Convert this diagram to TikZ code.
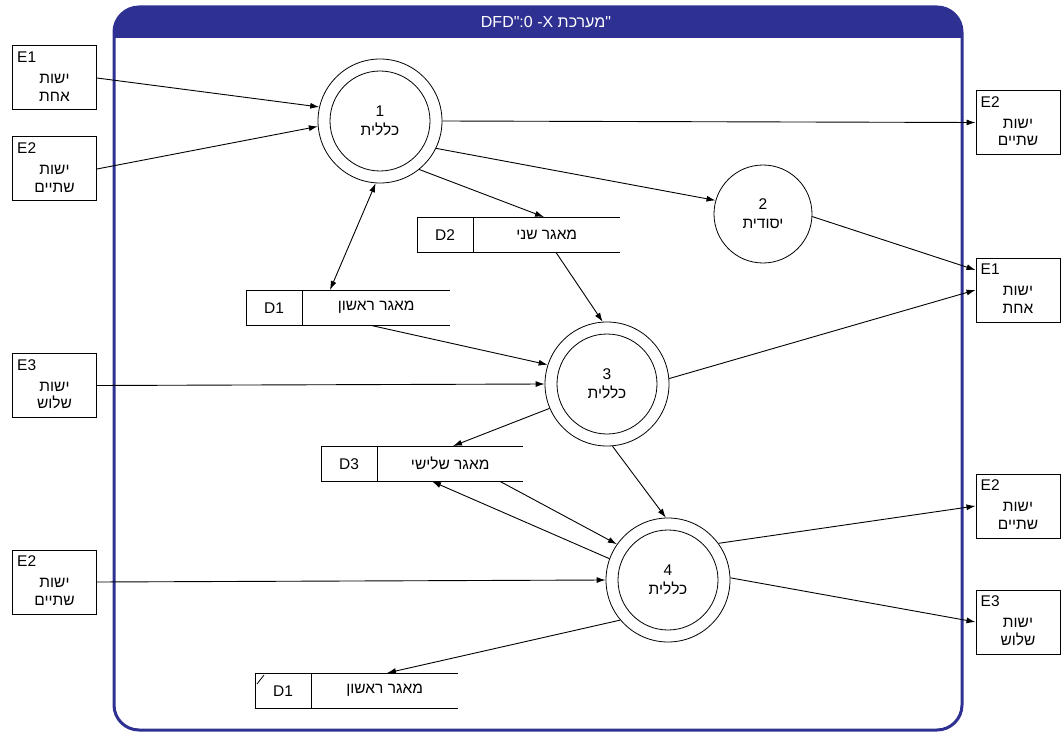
\documentclass[tikz,border=0pt]{standalone}
\usepackage{fontspec}
\setmainfont{Liberation Sans}
\newfontfamily\hebfont[Script=Hebrew]{Liberation Sans}
\TeXXeTstate=1
\usetikzlibrary{arrows.meta,calc}
\definecolor{framecol}{RGB}{46,49,146}
\newcommand\he[1]{{\hebfont\beginR #1\endR}}
% external entity: name, x, y, id, two text lines
\newcommand\entity[6]{%
  \node[entity] (#1) at (#2,#3) {};
  \node[anchor=north west, inner sep=0pt] at ([xshift=5pt,yshift=-6pt]#1.north west) {#4};
  \node[align=center, inner sep=0pt] at ([yshift=-10pt]#1.center) {\he{#5}\\\he{#6}};
}
% data store: name, left, top, width, id, label
\newcommand\datastore[6]{%
  \node[minimum width=#4pt, minimum height=35pt, inner sep=0pt, anchor=north west] (#1) at (#2,#3) {};
  \draw[storeline] (#1.north west) -- (#1.north east) (#1.south west) -- (#1.south east);
  \draw[storeline] (#1.north west) rectangle ([xshift=56pt]#1.south west);
  \node at ([xshift=28pt]#1.west) {#5};
  \node at ($([xshift=56pt]#1.west)!0.5!(#1.east)$) {#6};
}
\begin{document}
\begin{tikzpicture}[x=1pt,y=-1pt,
  every node/.style={font=\fontsize{15.5}{17.5}\selectfont},
  entity/.style={draw, line width=1pt, minimum width=84pt, minimum height=64pt, inner sep=0pt},
  flow/.style={line width=0.9pt, -{Latex[length=9pt,width=6pt]}},
  bothflow/.style={line width=0.9pt, {Latex[length=9pt,width=6pt]}-{Latex[length=9pt,width=6pt]}},
  proc/.style={circle, draw, line width=0.8pt, inner sep=0pt, align=center, font=\fontsize{15.5}{19}\selectfont},
  storeline/.style={line width=0.8pt}]

\useasboundingbox (0,0) rectangle (1061,733);

% system boundary with title bar
\draw[framecol, line width=3pt, rounded corners=25pt] (114,7) rectangle (962,730);
\fill[framecol] (114,38) -- (114,32) arc[start angle=180, end angle=90, radius=25pt]
  -- (937,7) arc[start angle=90, end angle=0, radius=25pt] -- (962,38) -- cycle;
\node[text=white, font=\fontsize{16}{18}\selectfont] (title) at (546,22)
  {DFD\textquotedbl:0 -X {\hebfont\beginR מערכת\endR}\textquotedbl};

% external entities
\entity{e1l}{54.5}{78}{E1}{ישות}{אחת}
\entity{e2l}{54.5}{169}{E2}{ישות}{שתיים}
\entity{e3l}{54.5}{385.5}{E3}{ישות}{שלוש}
\entity{e2b}{54.5}{582}{E2}{ישות}{שתיים}
\entity{er2}{1018}{122.5}{E2}{ישות}{שתיים}
\entity{er1}{1018}{290}{E1}{ישות}{אחת}
\entity{er2b}{1018}{506}{E2}{ישות}{שתיים}
\entity{er3}{1018}{622}{E3}{ישות}{שלוש}

% processes
\node[proc, minimum size=124pt] (p1) at (380,121) {};
\node[proc, minimum size=100pt] (p1i) at (p1) {1\\\he{כללית}};
\node[proc, minimum size=98pt] (p2) at (763,214) {2\\\he{יסודית}};
\node[proc, minimum size=124pt] (p3) at (607,384) {};
\node[proc, minimum size=100pt] (p3i) at (p3) {3\\\he{כללית}};
\node[proc, minimum size=124pt] (p4) at (668,580) {};
\node[proc, minimum size=100pt] (p4i) at (p4) {4\\\he{כללית}};

% data stores
\datastore{d2}{417}{217}{203}{D2}{{\hebfont\beginR מאגר שני\endR}}
\datastore{d1u}{246}{290}{204}{D1}{{\hebfont\beginR מאגר ראשון\endR}}
\datastore{d3}{321}{446}{202}{D3}{{\hebfont\beginR מאגר שלישי\endR}}
\datastore{d1l}{255}{673}{203}{D1}{{\hebfont\beginR מאגר ראשון\endR}}
\draw[storeline] ([xshift=2pt,yshift=-11pt]d1l.north west) -- ([xshift=9pt,yshift=-2pt]d1l.north west);

% data flows
\draw[flow] (e1l.east) -- (p1.167);
\draw[flow] (e2l.east) -- (p1.185);
\draw[flow] (p1.0) -- (er2.west);
\draw[flow] (p1.-26) -- (p2.164);
\draw[flow] (p1.-51) -- ([xshift=127pt]d2.north west);
\draw[bothflow] (p1.-94) -- ([xshift=84pt]d1u.north west);
\draw[flow] (p2.-3) -- ([yshift=20pt]er1.west);
\draw[flow] ([xshift=139pt]d2.south west) -- (p3.94);
\draw[flow] ([xshift=125pt]d1u.south west) -- (p3.162);
\draw[flow] (e3l.east) -- (p3.180);
\draw[flow] (p3.5) -- (er1.west);
\draw[flow] (p3.203) -- ([xshift=132pt]d3.north west);
\draw[flow] (p3.-85) -- (p4.92);
\draw[flow] ([xshift=179pt]d3.south west) -- (p4.145);
\draw[flow] (p4.160) -- ([xshift=111pt]d3.south west);
\draw[flow] (e2b.east) -- (p4.180);
\draw[flow] (p4.36) -- (er2b.west);
\draw[flow] (p4.2) -- (er3.west);
\draw[flow] (p4.220) -- ([xshift=132pt]d1l.north west);
\end{tikzpicture}
\end{document}
